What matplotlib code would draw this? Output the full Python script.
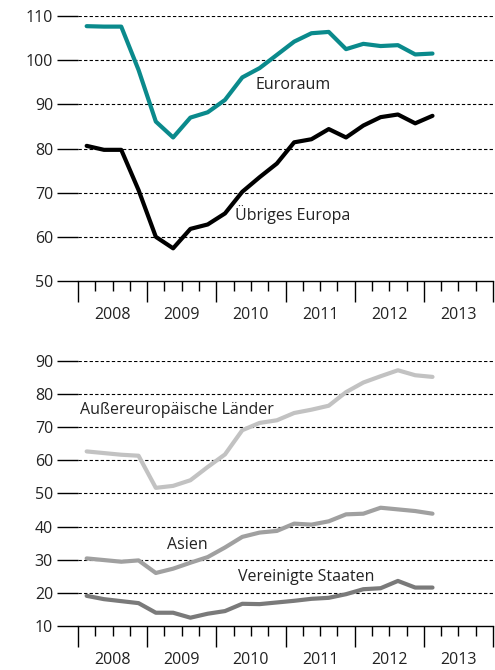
import numpy as np
import matplotlib.pyplot as plt

# --- Daten (Quartalswerte 2008Q1 - 2013Q1) ---
quarters = 2008 + (np.arange(21) + 0.5) / 4

euroraum = [107.7, 107.6, 107.6, 97.8, 86.1, 82.5, 87.0, 88.2, 91.0, 96.1, 98.2,
            101.2, 104.2, 106.1, 106.4, 102.5, 103.7, 103.2, 103.4, 101.3, 101.5]
uebriges_europa = [80.6, 79.7, 79.7, 70.6, 60.0, 57.4, 61.8, 62.8, 65.3, 70.2, 73.5,
                   76.6, 81.4, 82.1, 84.4, 82.5, 85.2, 87.1, 87.7, 85.7, 87.4]
aussereuropa = [62.7, 62.2, 61.7, 61.4, 51.7, 52.3, 54.0, 58.0, 61.8, 69.1, 71.3,
                72.1, 74.3, 75.3, 76.5, 80.6, 83.5, 85.4, 87.2, 85.7, 85.2]
asien = [30.4, 29.9, 29.4, 29.8, 26.0, 27.3, 29.1, 30.8, 33.7, 36.9, 38.2,
         38.7, 40.9, 40.6, 41.6, 43.7, 43.9, 45.7, 45.2, 44.7, 43.9]
usa = [19.1, 18.1, 17.5, 16.9, 14.0, 14.0, 12.5, 13.7, 14.5, 16.7, 16.6,
       17.1, 17.6, 18.2, 18.5, 19.6, 21.1, 21.4, 23.6, 21.6, 21.6]

years = [2008, 2009, 2010, 2011, 2012, 2013]

plt.rcParams['font.family'] = ['Open Sans', 'DejaVu Sans']
plt.rcParams['font.size'] = 11.5

fig = plt.figure(figsize=(4.95, 6.70), dpi=100)
ax1 = fig.add_axes([0.1576, 0.5806, 0.8384, 0.3955])
ax2 = fig.add_axes([0.1576, 0.0657, 0.8384, 0.3955])


def style_axis(ax, yticks):
    ax.set_xlim(2008, 2014)
    ax.set_ylim(yticks[0], yticks[-1])
    ax.set_yticks(yticks)
    for y in yticks[1:]:
        ax.axhline(y, color='black', lw=0.8, ls=(0, (3, 2)), zorder=1)
    for s in ['top', 'right', 'left']:
        ax.spines[s].set_visible(False)
    ax.spines['bottom'].set_linewidth(1.0)
    ax.tick_params(axis='y', length=15, width=1.0, pad=3, labelsize=11.5,
                   colors='#222222', color='black')
    ax.set_xticks(np.arange(2008, 2015))
    ax.set_xticks(np.arange(2008, 2014, 0.25), minor=True)
    ax.tick_params(axis='x', which='major', length=15, width=1.0, labelbottom=False)
    ax.tick_params(axis='x', which='minor', length=7, width=1.0)
    for yr in years:
        ax.text(yr + 0.5, -0.13, str(yr), transform=ax.get_xaxis_transform(),
                ha='center', va='center', fontsize=11.5, color='#222222')


style_axis(ax1, [50, 60, 70, 80, 90, 100, 110])
ax1.plot(quarters, euroraum, color='#0a8a8c', lw=3, solid_capstyle='round', zorder=3)
ax1.plot(quarters, uebriges_europa, color='black', lw=3, solid_capstyle='round', zorder=3)
ax1.text(2011.11, 94.4, 'Euroraum', ha='center', va='center', color='#222222')
ax1.text(2011.11, 64.95, 'Übriges Europa', ha='center', va='center', color='#222222')

style_axis(ax2, [10, 20, 30, 40, 50, 60, 70, 80, 90])
ax2.plot(quarters, aussereuropa, color='#c2c2c2', lw=3, solid_capstyle='round', zorder=3)
ax2.plot(quarters, asien, color='#a0a0a0', lw=3, solid_capstyle='round', zorder=3)
ax2.plot(quarters, usa, color='#7a7a7a', lw=3, solid_capstyle='round', zorder=3)
ax2.text(2009.43, 75.2, 'Außereuropäische Länder', ha='center', va='center', color='#222222')
ax2.text(2009.58, 34.5, 'Asien', ha='center', va='center', color='#222222')
ax2.text(2011.30, 24.8, 'Vereinigte Staaten', ha='center', va='center', color='#222222')

fig.savefig('out.png', dpi=100)
